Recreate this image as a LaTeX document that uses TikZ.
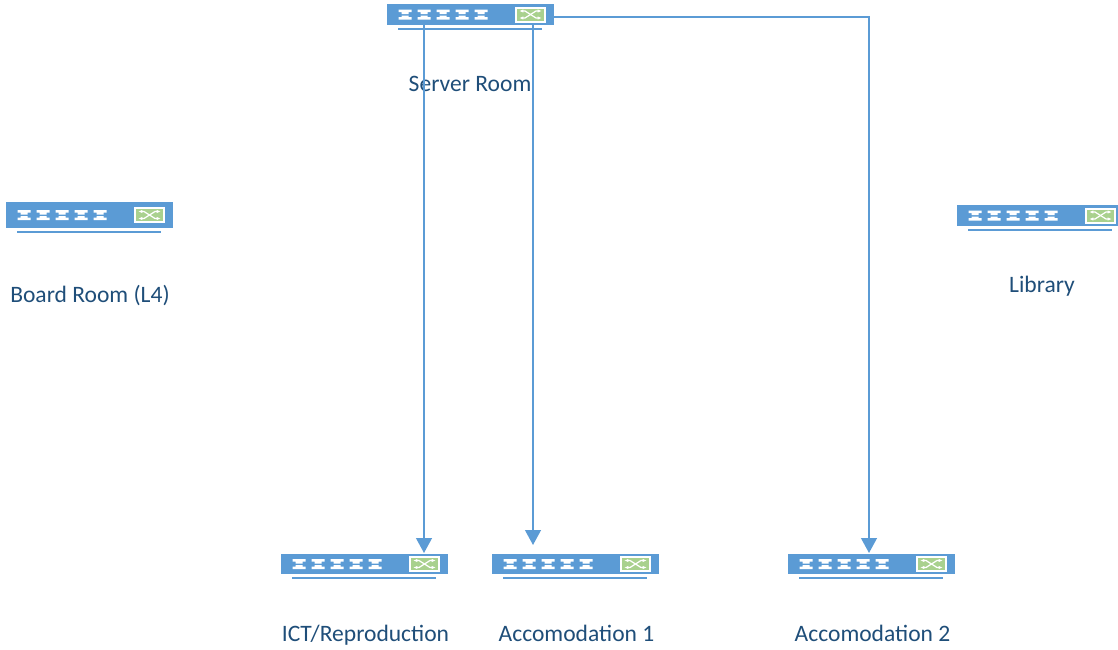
\documentclass[tikz,border=0pt]{standalone}
\usepackage{fontspec}
\setmainfont{Carlito}
\usetikzlibrary{arrows.meta}
\definecolor{swblue}{HTML}{5B9BD5}
\definecolor{swgreen}{HTML}{A9D18E}
\definecolor{lbltext}{HTML}{1F4E79}
\tikzset{
    switchbody/.style={fill=swblue, draw=none, anchor=north west, inner sep=0pt, outer sep=0pt, minimum width=167*0.02cm},
    lbl/.style={text=lbltext, font=\fontsize{13.4}{16}\selectfont, inner sep=0pt, anchor=base},
    link/.style={draw=swblue, line width=0.9pt, -{Triangle[length=8.5pt, width=9pt]}},
    pics/switch/.style={code={
        \node[switchbody, minimum height=#1*0.02cm] (-body) at (0,0) {};
        % ports along the front
        \foreach \i in {0,...,4} {
            \begin{scope}[shift={(11.5+19*\i, #1/2-5)}]
                \fill[white] (0,0) -- (13,0) -- (13,2.5) -- (10,2.5) -- (10,4.5) -- (3,4.5) -- (3,2.5) -- (0,2.5) -- cycle;
                \fill[white] (3,6) -- (10,6) -- (10,7.5) -- (13,7.5) -- (13,10) -- (0,10) -- (0,7.5) -- (3,7.5) -- cycle;
            \end{scope}
        }
        % crossed arrows panel
        \begin{scope}[shift={(128, #1/2-8)}]
            \fill[white] (0,0) rectangle (31,16);
            \fill[swgreen] (2,2) rectangle (29,14);
            \draw[white, line width=0.7pt, {Latex[length=2.5pt]}-{Latex[length=2.5pt]}] (4,4.5) -- (10,4.5) -- (21,11.5) -- (27,11.5);
            \draw[white, line width=0.7pt, {Latex[length=2.5pt]}-{Latex[length=2.5pt]}] (4,11.5) -- (10,11.5) -- (21,4.5) -- (27,4.5);
        \end{scope}
        \draw[swblue, line width=1pt] (11,#1+4) -- (155,#1+4);
    }}
}
\begin{document}
\begin{tikzpicture}[x=0.02cm, y=-0.02cm]
    \useasboundingbox (0,0) rectangle (1118,649);

    \pic (srv) at (387,4) {switch=21};
    \pic (board) at (6,202) {switch=26};
    \begin{scope}
        \clip (0,0) rectangle (1118,649);
        \pic (lib) at (957,205) {switch=21};
    \end{scope}
    \pic (ict) at (281,554) {switch=20};
    \pic (acca) at (492,554) {switch=20};
    \pic (accb) at (788,554) {switch=20};

    \node[lbl] (srvlbl) at (470,91) {Server Room};
    \node[lbl] (boardlbl) at (90,302) {Board Room (L4)};
    \node[lbl] (liblbl) at (1042,292) {Library};
    \node[lbl] (ictlbl) at (365.5,641) {ICT/Reproduction};
    \node[lbl] (accalbl) at (576.5,641) {Accomodation 1};
    \node[lbl] (accblbl) at (872.5,641) {Accomodation 2};

    \coordinate (srvout) at (553,17);
    \coordinate (ictin) at (424,553);
    \coordinate (accain) at (533,545);
    \coordinate (accbin) at (869,553);

    \draw[link] (ictin |- srv-body.south) -- (ictin);
    \draw[link] (accain |- srv-body.south) -- (accain);
    \draw[link] (srvout) -| (accbin);
\end{tikzpicture}
\end{document}
